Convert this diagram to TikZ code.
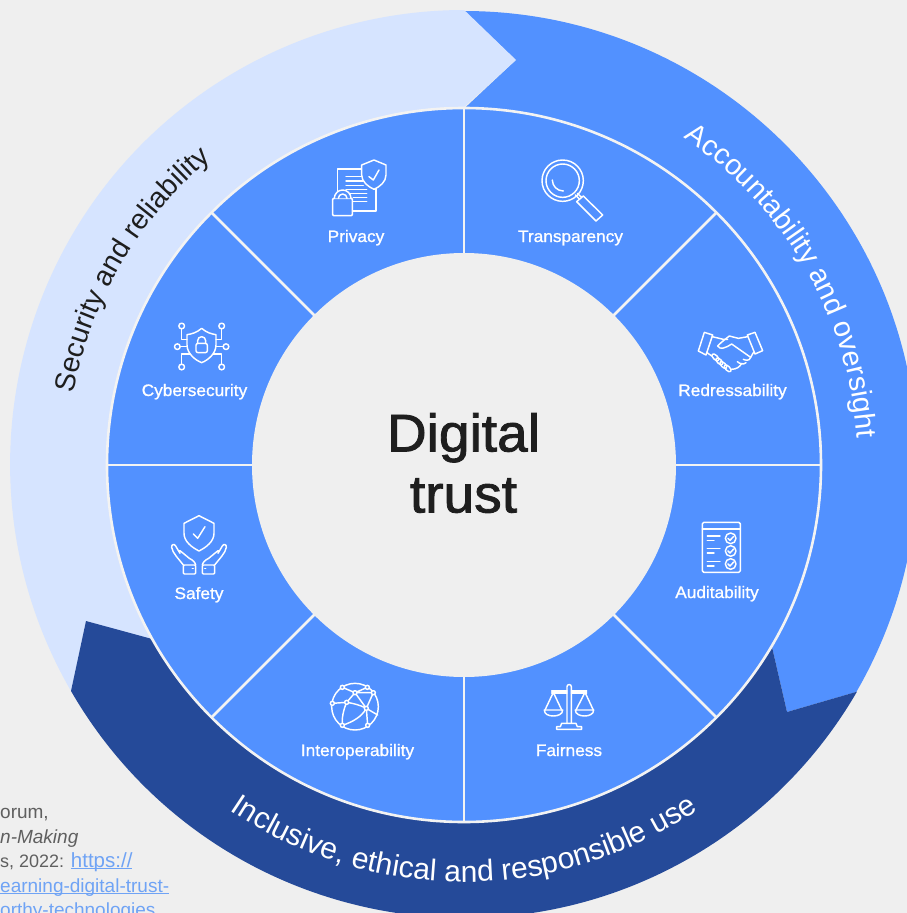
\documentclass[tikz,border=0pt]{standalone}
\usepackage{fontspec}
\setmainfont{Liberation Sans}
\newfontfamily\medfont[FakeBold=1.0,FakeStretch=1.04]{Liberation Sans}
\newfontfamily\titlefont[FakeBold=1.6,FakeStretch=1.04]{Liberation Sans}
\newfontfamily\arcfont{Liberation Sans}
\usetikzlibrary{decorations.text}
\definecolor{bgc}{HTML}{EFEFEF}
\definecolor{bluec}{HTML}{5291FF}
\definecolor{lightc}{HTML}{D6E4FF}
\definecolor{darkc}{HTML}{254A99}
\definecolor{greyc}{HTML}{5F5F5F}
\definecolor{linkc}{HTML}{6FA3F5}
\definecolor{inkc}{HTML}{1E1E1E}
\definecolor{rulec}{HTML}{F3F3F3}
\newcommand\linkul[1]{\setbox0\hbox{#1}\rlap{\rule[-2.2pt]{\wd0}{0.9pt}}\box0}
\tikzset{
  x=1pt,y=1pt,
  divider/.style={draw=rulec,line width=2.6pt},
  seglabel/.style={anchor=base,inner sep=0pt,text=white,font=\medfont\fontsize{16.6}{18}\selectfont},
  srctext/.style={anchor=base west,inner sep=0pt,text=greyc,font=\fontsize{19}{24}\selectfont},
  icon/.style={draw=white,line width=1.45pt,line join=round,line cap=round},
  iconzoom/.style={x=0.33333pt,y=-0.33333pt,icon},
  arctext/.style={decorate},
}
\begin{document}
\begin{tikzpicture}
\useasboundingbox (0,0) rectangle (907,-913);
\clip (0,0) rectangle (907,-913);
\fill[bgc] (0,0) rectangle (907,-913);
\coordinate (c) at (464,-465);
% outer bands
\fill[bluec] (464,-11) arc[start angle=90,end angle=-30.1,radius=453.5pt]
  -- (787,-712) -- (772,-647) arc[start angle=-30.7,end angle=90,radius=357pt] -- (516,-60) -- cycle;
\fill[lightc] (71,-691) arc[start angle=210,end angle=90,radius=454pt]
  -- (516,-60) -- (464,-107) arc[start angle=90,end angle=209.3,radius=358pt] -- (86,-621) -- cycle;
\fill[darkc] (71,-691) arc[start angle=210,end angle=329.9,radius=454pt]
  -- (787,-712) -- (772,-647) arc[start angle=-30.7,end angle=-150.7,radius=357pt] -- (86,-621) -- cycle;
% segments
\filldraw[fill=bluec,draw=rulec,line width=2.6pt] (c) circle[radius=357pt];
\foreach \a in {0,45,...,315}{
  \draw[divider] ([shift={(c)}]\a:211pt) -- ([shift={(c)}]\a:357pt);
}
\fill[bgc] (c) circle[radius=212pt];
\node[align=center,inner sep=0pt,text=inkc,font=\titlefont\fontsize{53}{61}\selectfont] (title) at (463.5,-463) {Digital\\trust};
% arc texts
\path[arctext,decoration={text along path,text align=center,text color=inkc,
  text={|\arcfont\fontsize{28.5}{30}\selectfont|Security and reliability}}]
  ([shift={(c)}]177.6:397pt) arc[start angle=177.6,end angle=121.6,radius=397pt];
\path[arctext,decoration={text along path,text align=center,text color=white,
  text={|\arcfont\fontsize{28.8}{30}\selectfont|Accountability and oversight}}]
  ([shift={(c)}]62:394pt) arc[start angle=62,end angle=-2,radius=394pt];
\path[arctext,decoration={text along path,text align=center,text color=white,
  text={|\arcfont\fontsize{30}{30}\selectfont|Inclusive, ethical and responsible use}}]
  ([shift={(c)}]204:417pt) arc[start angle=204,end angle=336,radius=417pt];
% labels
\node[seglabel] (privacy) at (356,-242) {Privacy};
\node[seglabel] (transparency) at (570.5,-242) {Transparency};
\node[seglabel] (cyber) at (194.5,-396) {Cybersecurity};
\node[seglabel] (redress) at (732.5,-396) {Redressability};
\node[seglabel] (safety) at (199,-599) {Safety};
\node[seglabel] (audit) at (717,-598) {Auditability};
\node[seglabel] (interop) at (357.5,-756) {Interoperability};
\node[seglabel] (fair) at (569,-756) {Fairness};
% source text
\node[srctext] (s1) at (0,-818) {orum,};
\node[srctext] (s2) at (0,-843) {\itshape n-Making};
\node[srctext] (s3) at (0,-867) {\fontsize{18}{24}\selectfont s, 2022: \textcolor{linkc}{\fontsize{20.5}{24}\selectfont\linkul{https://}}};
\node[srctext,text=linkc] (s4) at (0,-892) {\linkul{earning-digital-trust-}};
\node[srctext,text=linkc] (s5) at (0,-916) {\linkul{orthy-technologies}};
% Privacy icon
\begin{scope}[shift={(300,-130)},iconzoom]
  \draw (185,117) -- (113,117) -- (113,195);
  \draw (228,165) -- (228,243) -- (157,243);
  \foreach \y in {140,153,166} \draw (138,\y) -- (190,\y);
  \foreach \y in {178,190} \draw (138,\y) -- (200,\y);
  \foreach \y in {202,214} \draw (160,\y) -- (200,\y);
  \filldraw[fill=bluec] (222,90) -- (258,105) -- (258,135) .. controls (258,155) and (240,170) .. (222,178) .. controls (204,170) and (185,155) .. (185,135) -- (185,105) -- cycle;
  \draw (207,140) -- (220,150) -- (237,120);
  \filldraw[fill=bluec,rounded corners=1pt] (98,205) rectangle (157,257);
  \filldraw[fill=bluec] (103,205) arc[start angle=180,end angle=360,radius=25];
  \draw (115,205) arc[start angle=180,end angle=360,radius=13];
\end{scope}
% Transparency icon
\begin{scope}[shift={(300,-130)},iconzoom]
  \draw (788,152) circle[radius=62];
  \draw (788,152) circle[radius=50];
  \draw (757,150) arc[start angle=180,end angle=90,radius=33];
  \draw (826,195) -- (838,207) (832,190) -- (845,202);
  \draw (850,198) -- (908,255) -- (888,273) -- (830,215) -- cycle;
\end{scope}
% Cybersecurity icon
\begin{scope}[shift={(130,-310)},iconzoom]
  \draw (215,55) .. controls (200,68) and (185,72) .. (171,74) -- (171,105) .. controls (171,130) and (195,150) .. (215,158)
    .. controls (235,150) and (258,130) .. (258,105) -- (258,74) .. controls (245,72) and (230,68) .. (215,55) -- cycle;
  \draw[rounded corners=2pt] (198,100) rectangle (232,128);
  \draw (203,100) -- (203,92) arc[start angle=180,end angle=360,radius=12] -- (227,100);
  \foreach \p in {(155,48),(275,48),(142,110),(288,110),(155,171),(275,171)} \draw \p circle[radius=8.5];
  \draw (155,57) -- (155,88) -- (171,88);
  \draw (275,57) -- (275,88) -- (258,88);
  \draw (151,110) -- (171,110);
  \draw (279,110) -- (258,110);
  \draw (155,162) -- (155,132) -- (180,132);
  \draw (275,162) -- (275,132) -- (250,132);
\end{scope}
% Safety icon
\begin{scope}[shift={(130,-310)},iconzoom]
  \draw (207,617) -- (252,640) -- (252,670) .. controls (252,695) and (228,712) .. (207,723)
    .. controls (186,712) and (162,695) .. (162,670) -- (162,640) -- cycle;
  \draw (190,672) -- (203,685) -- (225,650);
  \draw[rounded corners=1pt] (160,765) rectangle (197,792);
  \draw[rounded corners=1pt] (217,765) rectangle (254,792);
  \draw (187,776) -- (190,776) (224,776) -- (227,776);
  \draw (160,765) .. controls (145,745) and (128,730) .. (125,712) .. controls (124,703) and (133,700) .. (137,708)
    -- (150,730) (150,722) -- (178,745) .. controls (188,750) and (196,757) .. (197,765);
  \draw (254,765) .. controls (269,745) and (286,730) .. (289,712) .. controls (290,703) and (281,700) .. (277,708)
    -- (264,730) (264,722) -- (236,745) .. controls (226,750) and (218,757) .. (217,765);
\end{scope}
% Redressability icon
\begin{scope}[shift={(660,-320)},iconzoom]
  \draw (133,37) -- (158,45) -- (138,105) -- (115,93) -- cycle;
  \draw (285,37) -- (308,92) -- (285,102) -- (262,45) -- cycle;
  \draw (157,50) -- (190,58) -- (203,58);
  \draw (263,50) -- (235,55) -- (208,48) .. controls (195,58) and (182,68) .. (173,78) .. controls (180,90) and (195,85) .. (215,72) -- (272,112);
  \draw (280,98) -- (272,112) .. controls (268,125) and (255,120) .. (250,118);
  \draw (258,128) .. controls (250,135) and (240,132) .. (232,125);
  \draw (140,97) -- (155,108);
  \foreach \p in {(166,112),(178,124),(190,135),(203,145)}
    \draw[shift={\p},rotate=-45] (0,0) ellipse[x radius=13,y radius=6.5];
  \draw (214,148) .. controls (230,148) and (240,140) .. (245,130);
\end{scope}
% Auditability icon
\begin{scope}[shift={(660,-320)},iconzoom]
  \draw[rounded corners=1.5pt] (127,607) rectangle (241,757);
  \draw (127,627) -- (241,627);
  \foreach \y in {655,693,732}{
    \draw (212,\y) circle[radius=16];
    \draw (204,\y) -- (210,\y+6) -- (221,\y-6);
    \draw (142,\y-7) -- (180,\y-7);
    \draw (142,\y+6) -- (162,\y+6);
  }
\end{scope}
% Interoperability icon
\begin{scope}[shift={(290,-670)},iconzoom]
  \draw (195,110) circle[radius=70];
  \draw (157,52) -- (195,68) -- (232,52) (195,68) -- (250,68);
  \draw (195,68) -- (170,97) -- (127,100);
  \draw (195,68) -- (229,115) -- (250,68);
  \draw (170,97) .. controls (190,100) and (210,105) .. (229,115);
  \draw (170,97) .. controls (160,120) and (155,145) .. (157,166);
  \draw (229,115) .. controls (215,140) and (190,155) .. (157,166);
  \draw (229,115) -- (233,166);
  \draw (229,115) -- (263,135);
  \foreach \p in {(157,52),(232,52),(250,68),(195,68),(127,100),(170,97),(229,115),(157,166),(233,166)}
    \filldraw[fill=bluec] \p circle[radius=6];
\end{scope}
% Fairness icon
\begin{scope}[shift={(290,-670)},iconzoom]
  \draw (831,160) -- (831,50) arc[start angle=180,end angle=360,radius=6.5] -- (844,160);
  \draw (785,63) -- (831,63) (844,63) -- (890,63) (785,69) -- (831,69) (844,69) -- (890,69);
  \draw (815,160) -- (858,160) -- (862,170) -- (875,170) -- (875,178) -- (800,178) -- (800,170) -- (811,170) -- cycle;
  \draw (790,67) -- (765,120) (790,67) -- (815,120);
  \draw (885,67) -- (858,120) (885,67) -- (910,120);
  \draw (763,120) -- (818,120) .. controls (818,132) and (805,138) .. (790,138) .. controls (775,138) and (763,132) .. (763,120) -- cycle;
  \draw (856,120) -- (911,120) .. controls (911,132) and (898,138) .. (884,138) .. controls (869,138) and (856,132) .. (856,120) -- cycle;
\end{scope}
\end{tikzpicture}
\end{document}
